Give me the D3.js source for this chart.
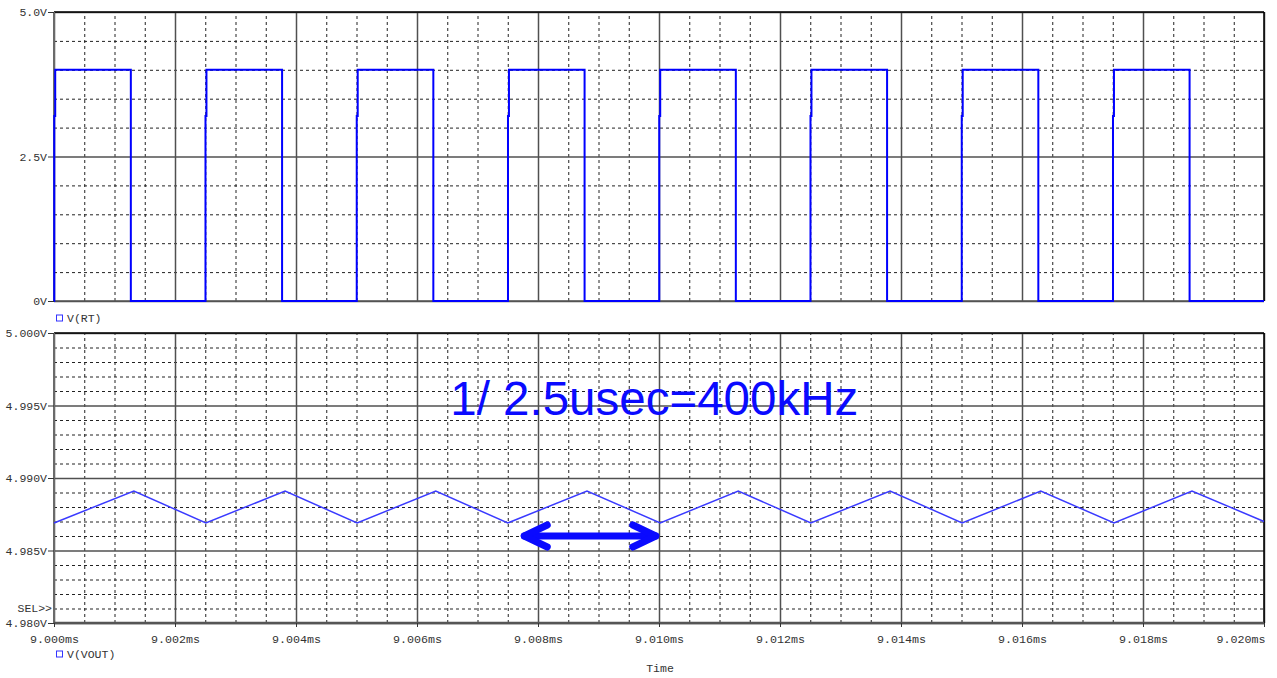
<!DOCTYPE html>
<html><head><meta charset="utf-8">
<script src="https://cdn.jsdelivr.net/npm/d3@7"></script>
<style>body{margin:0;background:#fff}svg{display:block}</style>
</head><body>
<svg id="c" width="1277" height="678"></svg>
<script>
// ---- data ----
const timeTicks = [9.000, 9.002, 9.004, 9.006, 9.008, 9.010, 9.012, 9.014, 9.016, 9.018, 9.020];
const topTicks = [0, 2.5, 5.0];
const topTickLabels = ["0V", "2.5V", "5.0V"];
const botTicks = [4.980, 4.985, 4.990, 4.995, 5.000];
const botTickLabels = ["4.980V", "4.985V", "4.990V", "4.995V", "5.000V"];

// V(RT) square wave edges (ms)
const riseTimes = [9.00002, 9.00252, 9.00502, 9.00752, 9.01002, 9.01252, 9.01502, 9.01752];
const fallTimes = [9.00127, 9.00377, 9.00627, 9.00877, 9.01127, 9.01377, 9.01627, 9.01877];
const highLevel = 4.0;
const lowLevel = 0.0;
const kinkLevel = 3.2;

// V(VOUT) triangle vertices
const voutTimes = [9.00000, 9.00132, 9.00251, 9.00382, 9.00501, 9.00631, 9.00750, 9.00881, 9.01002,
                   9.01131, 9.01251, 9.01382, 9.01501, 9.01631, 9.01752, 9.01881, 9.02000];
const voutValues = [4.9869, 4.9891, 4.9869, 4.9891, 4.9869, 4.9891, 4.9869, 4.9891, 4.9869,
                    4.9891, 4.9869, 4.9891, 4.9869, 4.9891, 4.9869, 4.9891, 4.9870];

const annotationText = "1/ 2.5usec=400kHz";
const arrowStart = 9.00774, arrowEnd = 9.00998, arrowLevel = 4.9860;
const annotTime = 9.00655, annotLevel = 4.99434;

// ---- layout ----
const svg = d3.select("#c");
const L = 54, R = 1264;
const topT = 12, topB = 301, botT = 333, botB = 623;
const x = d3.scaleLinear().domain([9.000, 9.020]).range([L, R]);
const yTop = d3.scaleLinear().domain([0, 5]).range([topB, topT]);
const yBot = d3.scaleLinear().domain([4.980, 5.000]).range([botB, botT]);

const monoFont = "'Liberation Mono', 'Courier New', monospace";
const textCol = "#333";
const majorCol = "#505050";
const blue = "#0000ff";

svg.append("rect").attr("width", 1277).attr("height", 678).attr("fill", "#fff");

function near(a, list) { return list.some(v => Math.abs(v - a) < 1e-9); }
const minorX = d3.range(0, 41).map(i => 9 + i * 0.0005).filter(v => !near(v, timeTicks));
const minorTop = d3.range(0, 11).map(i => i * 0.5).filter(v => !near(v, topTicks));
const minorBot = d3.range(0, 21).map(i => 4.98 + i * 0.001).filter(v => !near(v, botTicks));

function panelGrid(y, yT, yB, minorY, majorY) {
  const g = svg.append("g");
  g.append("g").attr("transform", `translate(0,${yB})`)
    .call(d3.axisBottom(x).tickValues(minorX).tickSize(-(yB - yT)).tickFormat(""))
    .call(s => s.select(".domain").remove())
    .call(s => s.selectAll("line").attr("stroke", "#222").attr("stroke-dasharray", "3,3"));
  g.append("g").attr("transform", `translate(${L},0)`)
    .call(d3.axisLeft(y).tickValues(minorY).tickSize(-(R - L)).tickFormat(""))
    .call(s => s.select(".domain").remove())
    .call(s => s.selectAll("line").attr("stroke", "#222").attr("stroke-dasharray", "3,3"));
  g.append("g").attr("transform", `translate(0,${yB})`)
    .call(d3.axisBottom(x).tickValues(timeTicks).tickSize(-(yB - yT)).tickFormat(""))
    .call(s => s.select(".domain").remove())
    .call(s => s.selectAll("line").attr("stroke", majorCol).attr("stroke-width", 1.5));
  g.append("g").attr("transform", `translate(${L},0)`)
    .call(d3.axisLeft(y).tickValues(majorY).tickSize(-(R - L)).tickFormat(""))
    .call(s => s.select(".domain").remove())
    .call(s => s.selectAll("line").attr("stroke", majorCol).attr("stroke-width", 1.5));
}
panelGrid(yTop, topT, topB, minorTop, topTicks);
panelGrid(yBot, botT, botB, minorBot, botTicks);

function borders(yT, yB, bottomW) {
  svg.append("line").attr("x1", L).attr("x2", R).attr("y1", yT).attr("y2", yT).attr("stroke", "#000").attr("stroke-width", 1.5);
  svg.append("line").attr("x1", R).attr("x2", R).attr("y1", yT).attr("y2", yB).attr("stroke", "#000").attr("stroke-width", 1.5);
  svg.append("line").attr("x1", L).attr("x2", L).attr("y1", yT).attr("y2", yB + 1).attr("stroke", "#6a6a6a").attr("stroke-width", 2);
  svg.append("line").attr("x1", L).attr("x2", R).attr("y1", yB).attr("y2", yB).attr("stroke", "#555").attr("stroke-width", bottomW);
}
borders(topT, topB, 1.5);
borders(botT, botB, 2.5);

function yAxis(y, ticks, labels) {
  svg.append("g").attr("transform", `translate(${L},0)`)
    .call(d3.axisLeft(y).tickValues(ticks).tickSize(6).tickPadding(1)
      .tickFormat((d, i) => labels[i]))
    .call(s => s.select(".domain").remove())
    .call(s => s.selectAll("line").attr("stroke", "#333"))
    .call(s => s.selectAll("text").attr("fill", textCol).attr("font-family", monoFont).attr("font-size", "11.5px"));
}
yAxis(yTop, topTicks, topTickLabels);
yAxis(yBot, botTicks, botTickLabels);

// x axis
svg.append("g").attr("transform", `translate(0,${botB})`)
  .call(d3.axisBottom(x).tickValues(timeTicks).tickSize(4).tickPadding(8)
    .tickFormat(d => d.toFixed(3) + "ms"))
  .call(s => s.select(".domain").remove())
  .call(s => s.selectAll("line").attr("stroke", "#333"))
  .call(s => s.selectAll("text").attr("fill", textCol).attr("font-family", monoFont).attr("font-size", "11.7px"))
  .call(s => s.selectAll(".tick").filter(d => Math.abs(d - 9.020) < 1e-9)
    .select("text").attr("text-anchor", "end").attr("x", 1));

// V(RT) series
const rtPts = [[9.000, lowLevel]];
riseTimes.forEach((t, i) => {
  rtPts.push([t - 0.000016, lowLevel], [t - 0.000016, kinkLevel], [t, kinkLevel], [t, highLevel],
             [fallTimes[i], highLevel], [fallTimes[i], lowLevel]);
});
rtPts.push([9.020, lowLevel]);
svg.append("path").datum(rtPts)
  .attr("d", d3.line().x(d => x(d[0])).y(d => yTop(d[1])))
  .attr("fill", "none").attr("stroke", blue).attr("stroke-width", 2);

// V(VOUT) series
const voutPts = voutTimes.map((t, i) => [t, voutValues[i]]);
svg.append("path").datum(voutPts)
  .attr("d", d3.line().x(d => x(d[0])).y(d => yBot(d[1])))
  .attr("fill", "none").attr("stroke", "#3a3aff").attr("stroke-width", 1.5);

function legend(yc, label) {
  svg.append("rect").attr("x", 56.5).attr("y", yc - 3).attr("width", 6).attr("height", 6)
    .attr("fill", "none").attr("stroke", "#3333ff").attr("stroke-width", 1);
  svg.append("text").attr("x", 67).attr("y", yc + 4).text(label)
    .attr("fill", textCol).attr("font-family", monoFont).attr("font-size", "11.5px");
}
legend(318, "V(RT)");
legend(654, "V(VOUT)");

svg.append("text").attr("x", 52).attr("y", 612).attr("text-anchor", "end").text("SEL>>")
  .attr("fill", textCol).attr("font-family", monoFont).attr("font-size", "11.5px");
svg.append("text").attr("x", 660).attr("y", 672).attr("text-anchor", "middle").text("Time")
  .attr("fill", textCol).attr("font-family", monoFont).attr("font-size", "11.5px");

// annotation
svg.append("text").attr("x", x(annotTime)).attr("y", yBot(annotLevel)).text(annotationText)
  .attr("fill", "#0a0aff").attr("font-family", "'Liberation Sans', Arial, sans-serif").attr("font-size", "47.5px");

const ax1 = x(arrowStart), ax2 = x(arrowEnd), ay = yBot(arrowLevel);
const arrowG = svg.append("g").attr("stroke", "#0a0aff").attr("stroke-width", 7)
  .attr("stroke-linecap", "round").attr("stroke-linejoin", "round").attr("fill", "none");
arrowG.append("line").attr("x1", ax1 + 2).attr("x2", ax2 - 2).attr("y1", ay).attr("y2", ay);
arrowG.append("polyline").attr("points", `${ax1 + 25},${ay - 11} ${ax1 + 2},${ay} ${ax1 + 25},${ay + 11}`);
arrowG.append("polyline").attr("points", `${ax2 - 25},${ay - 11} ${ax2 - 2},${ay} ${ax2 - 25},${ay + 11}`);
</script>
</body></html>
